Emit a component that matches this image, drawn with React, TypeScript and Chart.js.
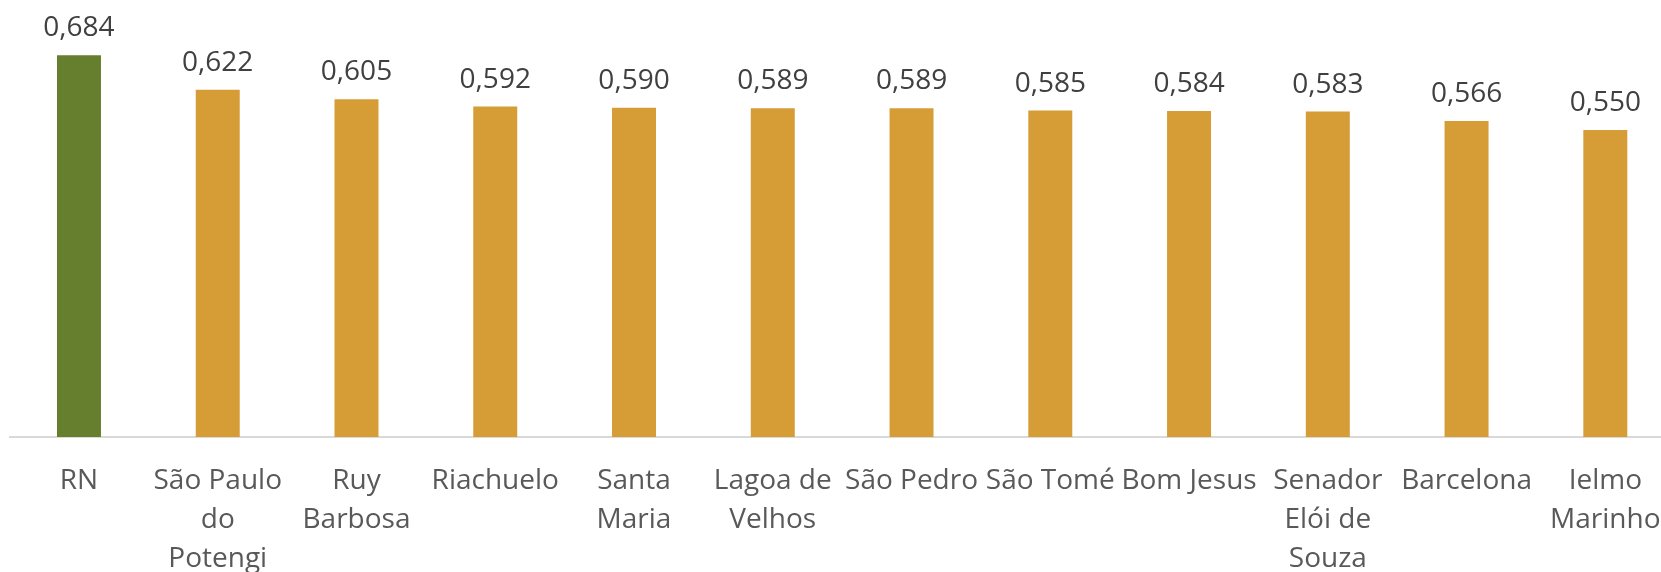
import React, { useEffect, useRef } from "react";
import { Chart, registerables } from "chart.js";

Chart.register(...registerables);

const categories: string[][] = [
  ["RN"],
  ["São Paulo", "do", "Potengi"],
  ["Ruy", "Barbosa"],
  ["Riachuelo"],
  ["Santa", "Maria"],
  ["Lagoa de", "Velhos"],
  ["São Pedro"],
  ["São Tomé"],
  ["Bom Jesus"],
  ["Senador", "Elói de", "Souza"],
  ["Barcelona"],
  ["Ielmo", "Marinho"],
];

const values: number[] = [0.684, 0.622, 0.605, 0.592, 0.59, 0.589, 0.589, 0.585, 0.584, 0.583, 0.566, 0.55];

const barColors: string[] = [
  "#667F2E",
  "#D69D37", "#D69D37", "#D69D37", "#D69D37", "#D69D37", "#D69D37",
  "#D69D37", "#D69D37", "#D69D37", "#D69D37", "#D69D37",
];

const FONT = "'Open Sans', 'DejaVu Sans', sans-serif";

const valueLabels = {
  id: "valueLabels",
  afterDatasetsDraw(chart: any) {
    const ctx = chart.ctx;
    const meta = chart.getDatasetMeta(0);
    ctx.save();
    ctx.font = `28px ${FONT}`;
    ctx.fillStyle = "#404040";
    ctx.textAlign = "center";
    ctx.textBaseline = "alphabetic";
    meta.data.forEach((bar: any, i: number) => {
      const txt = values[i].toFixed(3).replace(".", ",");
      ctx.fillText(txt, bar.x, bar.y - 19);
    });
    ctx.restore();
  },
};

export default function App() {
  const ref = useRef<HTMLCanvasElement | null>(null);

  useEffect(() => {
    if (!ref.current) return;
    const chart = new Chart(ref.current, {
      type: "bar",
      data: {
        labels: categories,
        datasets: [
          {
            data: values,
            backgroundColor: barColors,
            borderWidth: 0,
            categoryPercentage: 0.317,
            barPercentage: 1,
          },
        ],
      },
      options: {
        animation: false,
        responsive: false,
        devicePixelRatio: 1,
        layout: { padding: { left: 9.6, right: 45.3, top: 0, bottom: 0 } },
        plugins: {
          legend: { display: false },
          tooltip: { enabled: false },
        },
        scales: {
          y: {
            display: false,
            min: 0,
            max: 0.783,
          },
          x: {
            grid: { display: false, drawTicks: false },
            border: { display: true, color: "#D9D9D9", width: 2 },
            ticks: {
              color: "#595959",
              font: { family: FONT, size: 28, lineHeight: 1.4 },
              padding: 24,
              maxRotation: 0,
              minRotation: 0,
              autoSkip: false,
            },
            afterFit: (scale: any) => {
              scale.height = 135;
            },
          },
        },
      },
      plugins: [valueLabels],
    });
    return () => chart.destroy();
  }, []);

  return (
    <div
      style={{
        position: "fixed",
        left: 0,
        top: 0,
        width: 1661,
        height: 572,
        overflow: "hidden",
        background: "#FFFFFF",
      }}
    >
      <canvas ref={ref} width={1720} height={572} style={{ display: "block" }} />
    </div>
  );
}
